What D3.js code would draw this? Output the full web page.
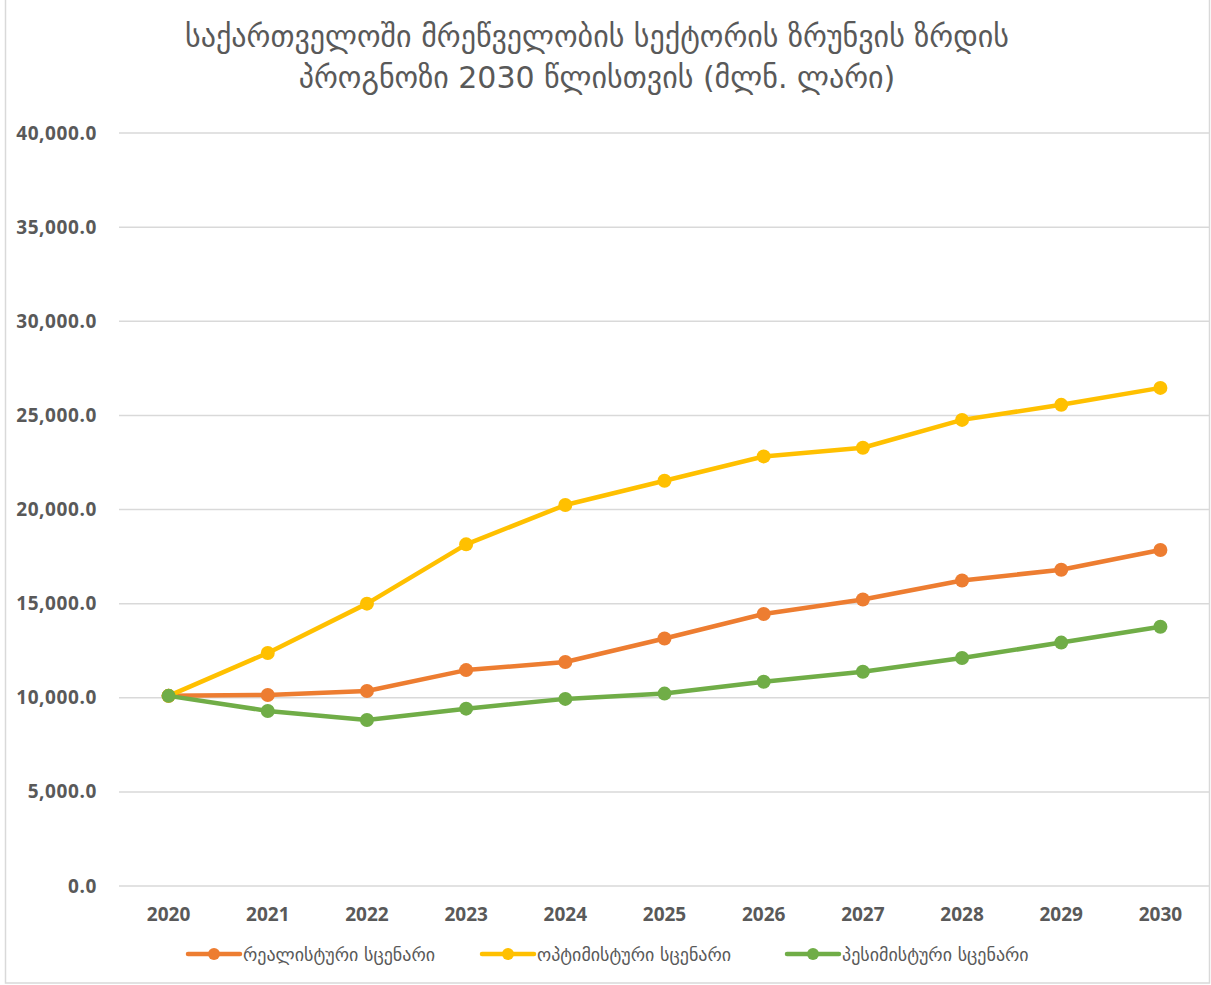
<!DOCTYPE html>
<html>
<head>
<meta charset="utf-8">
<script src="https://cdn.jsdelivr.net/npm/d3@7"></script>
<style>
  body { margin: 0; background: #fff; }
  svg { display: block; }
</style>
</head>
<body>
<div id="chart"></div>
<script>
const years = [2020, 2021, 2022, 2023, 2024, 2025, 2026, 2027, 2028, 2029, 2030];
const realistic = [10100, 10150, 10360, 11470, 11900, 13150, 14450, 15220, 16230, 16800, 17850];
const optimistic = [10100, 12380, 15000, 18150, 20240, 21530, 22820, 23280, 24760, 25560, 26460];
const pessimistic = [10100, 9300, 8820, 9420, 9940, 10220, 10850, 11380, 12110, 12930, 13770];
const seriesNames = ["რეალისტური სცენარი", "ოპტიმისტური სცენარი", "პესიმისტური სცენარი"];
const seriesColors = ["#ED7D31", "#FFC000", "#70AD47"];
const yTicks = [0, 5000, 10000, 15000, 20000, 25000, 30000, 35000, 40000];
const titleLines = ["საქართველოში მრეწველობის სექტორის ზრუნვის ზრდის", "პროგნოზი 2030 წლისთვის (მლნ. ლარი)"];

const W = 1211, H = 985;
const margin = { top: 133, right: 1, bottom: 99, left: 119 };

const svg = d3.select("#chart").append("svg")
    .attr("width", W)
    .attr("height", H);

// chart border
svg.append("rect")
    .attr("x", 5.5).attr("y", -2)
    .attr("width", 1204).attr("height", 985)
    .attr("fill", "none")
    .attr("stroke", "#d9d9d9")
    .attr("stroke-width", 1.5);

const x = d3.scaleBand()
    .domain(years)
    .range([margin.left, W - margin.right]);

const y = d3.scaleLinear()
    .domain([0, 40000])
    .range([H - margin.bottom, margin.top]);

const tickFont = "'Open Sans', sans-serif";

// gridlines
svg.append("g")
    .selectAll("line")
    .data(yTicks)
    .join("line")
    .attr("x1", margin.left)
    .attr("x2", W - 2)
    .attr("y1", d => y(d))
    .attr("y2", d => y(d))
    .attr("stroke", "#d9d9d9")
    .attr("stroke-width", 1.5);

// y axis
const yAxis = svg.append("g")
    .attr("transform", `translate(${margin.left},0)`)
    .call(d3.axisLeft(y).tickValues(yTicks).tickSize(0).tickPadding(22).tickFormat(d3.format(",.1f")));
yAxis.select(".domain").remove();
yAxis.selectAll("text")
    .attr("font-family", tickFont)
    .attr("font-weight", "bold")
    .attr("font-size", 19)
    .attr("letter-spacing", 0.6)
    .attr("fill", "#595959");

// x axis
const xAxis = svg.append("g")
    .attr("transform", `translate(0,${y(0)})`)
    .call(d3.axisBottom(x).tickSize(0).tickPadding(22));
xAxis.select(".domain").remove();
xAxis.selectAll("text")
    .attr("font-family", tickFont)
    .attr("font-weight", "bold")
    .attr("font-size", 19)
    .attr("fill", "#595959");

// title
svg.append("g")
    .selectAll("text")
    .data(titleLines)
    .join("text")
    .attr("x", 597)
    .attr("y", (d, i) => 47 + i * 41)
    .attr("text-anchor", "middle")
    .attr("font-family", "'DejaVu Sans', sans-serif")
    .attr("font-size", 30)
    .attr("fill", "#595959")
    .text(d => d);

// series
const allSeries = [realistic, optimistic, pessimistic];
const line = d3.line()
    .x((d, i) => x(years[i]) + x.bandwidth() / 2)
    .y(d => y(d));

allSeries.forEach((vals, s) => {
    const g = svg.append("g");
    g.append("path")
        .datum(vals)
        .attr("fill", "none")
        .attr("stroke", seriesColors[s])
        .attr("stroke-width", 4.5)
        .attr("stroke-linejoin", "round")
        .attr("d", line);
    g.selectAll("circle")
        .data(vals)
        .join("circle")
        .attr("cx", (d, i) => x(years[i]) + x.bandwidth() / 2)
        .attr("cy", d => y(d))
        .attr("r", 7)
        .attr("fill", seriesColors[s]);
});

// legend
const legendX = [188, 482, 787];
const legend = svg.append("g");
seriesNames.forEach((name, i) => {
    const lg = legend.append("g").attr("transform", `translate(${legendX[i]},954)`);
    lg.append("line")
        .attr("x1", 0).attr("x2", 52)
        .attr("stroke", seriesColors[i])
        .attr("stroke-width", 4.5)
        .attr("stroke-linecap", "round");
    lg.append("circle")
        .attr("cx", 26).attr("r", 6)
        .attr("fill", seriesColors[i]);
    lg.append("text")
        .attr("x", 55)
        .attr("y", 7)
        .attr("font-family", "'DejaVu Sans', sans-serif")
        .attr("font-size", 18)
        .attr("fill", "#595959")
        .text(name);
});
</script>
</body>
</html>
